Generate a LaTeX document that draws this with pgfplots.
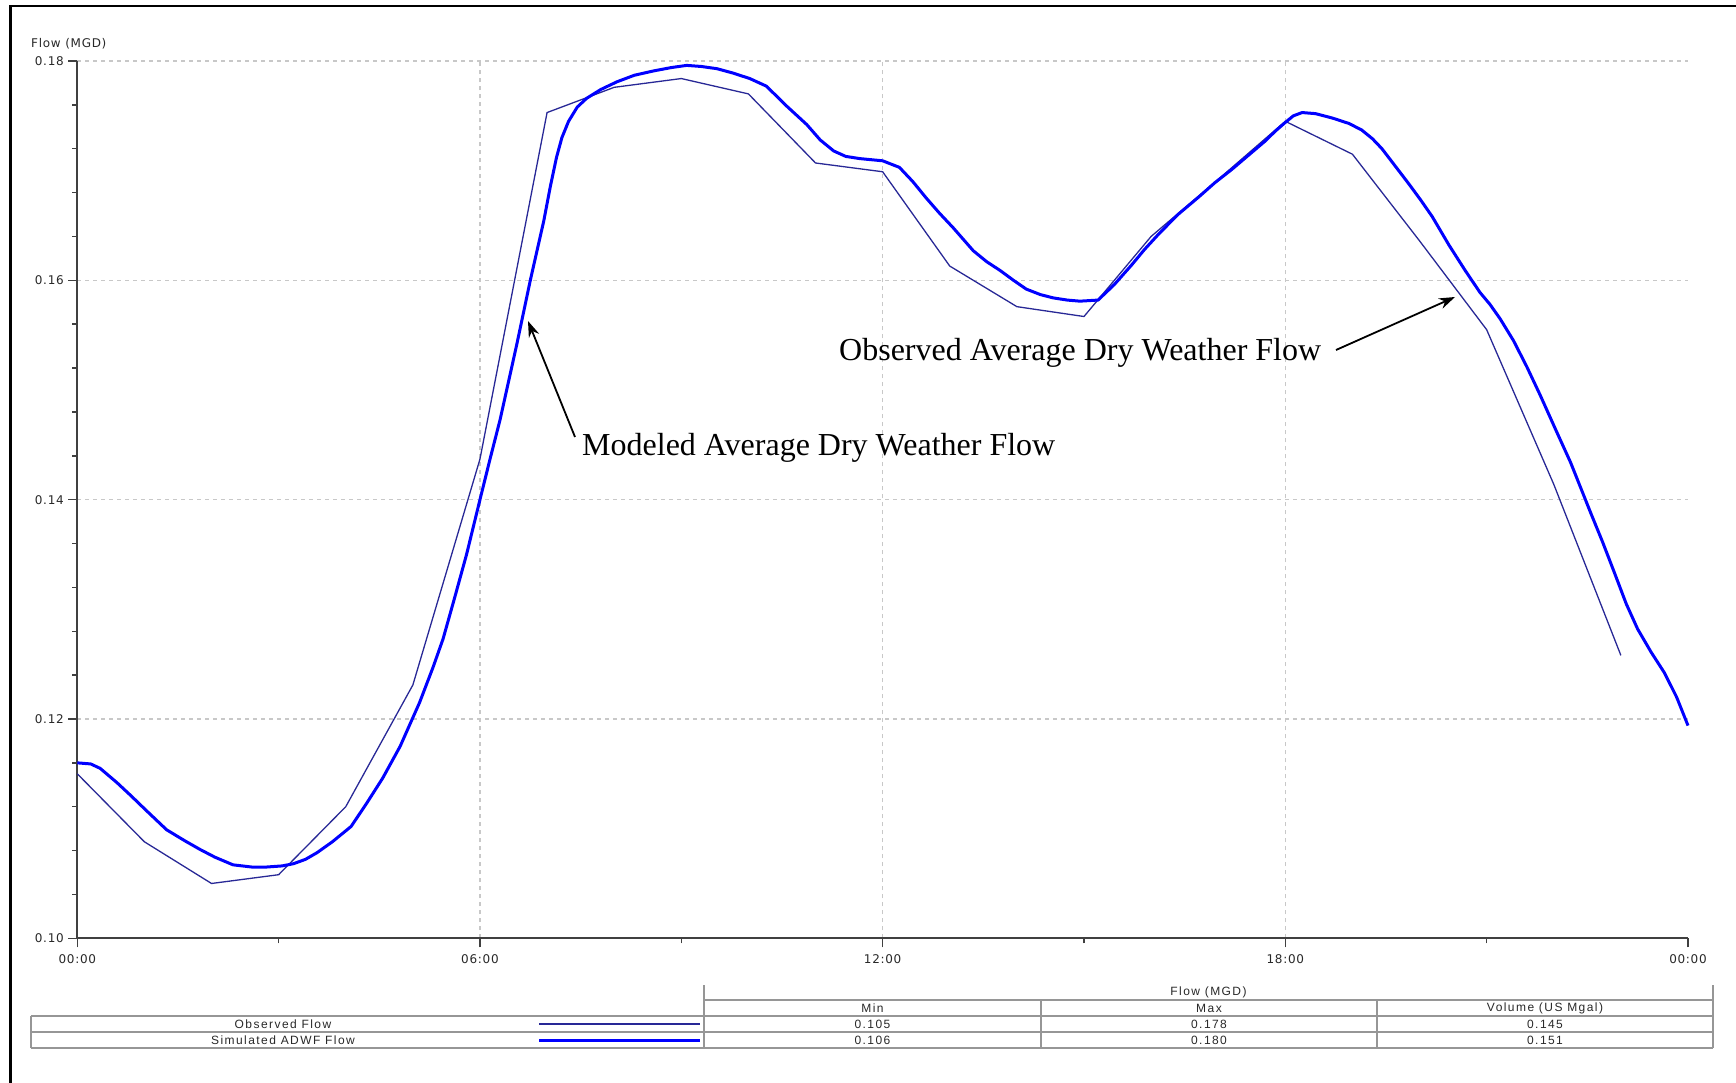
\documentclass[border=0pt]{standalone}
\usepackage{pgfplots}
\pgfplotsset{compat=1.18}
\usepackage{fontspec}
\setmainfont{Liberation Serif}
\newfontfamily\tickfont[LetterSpace=6]{DejaVu Sans}
\newfontfamily\tabfont[LetterSpace=12]{Liberation Sans}
\usetikzlibrary{arrows.meta}
\definecolor{obs}{RGB}{40,40,150}
\definecolor{sim}{RGB}{0,0,255}
\definecolor{gridc}{RGB}{200,200,200}
\definecolor{axc}{RGB}{64,64,64}
\definecolor{tabc}{RGB}{150,150,150}
\definecolor{txtc}{RGB}{40,40,40}
\begin{document}
\begin{tikzpicture}[x=1pt,y=1pt]
\path[use as bounding box] (0,0) rectangle (1736,-1083);
\draw[black,line width=2.5pt] (10.5,-1083) -- (10.5,-6) -- (1736,-6);
\begin{axis}[
  at={(77.3pt,-938.3pt)}, anchor=south west, scale only axis,
  width=1610.7pt, height=877.3pt,
  xmin=0, xmax=24, ymin=0.10, ymax=0.18,
  axis lines=left, axis line style={-, axc, line width=1.8pt},
  xtick={0,6,12,18}, xticklabels={00:00,06:00,12:00,18:00},
  extra x ticks={24}, extra x tick labels={00:00},
  extra x tick style={grid=none},
  minor xtick={3,9,15,21},
  ytick={0.10,0.12,0.14,0.16,0.18},
  yticklabels={0.10,0.12,0.14,0.16,0.18},
  minor y tick num=4,
  tick align=outside, major tick length=9pt, minor tick length=5pt,
  every tick/.style={axc, line width=1.5pt},
  grid=major, major grid style={gridc, dash pattern=on 4pt off 4pt, line width=1.2pt},
  ticklabel style={font=\tickfont\fontsize{12}{14}\selectfont, text=txtc},
  xticklabel style={yshift=-4pt},
  yticklabel style={xshift=-1pt},
  clip=false,
]
\addplot[obs, line width=1.3pt] coordinates {
(0,0.1150) (1,0.1088) (2,0.1050) (3,0.1058) (4,0.1120) (5,0.1231)
(6,0.1437) (7,0.1753) (8,0.1776) (9,0.1784) (10,0.1770) (11,0.1707)
(12,0.1699) (13,0.1613) (14,0.1576) (15,0.1567) (16,0.1640) (17,0.1692)
(18,0.1745) (19,0.1715) (20,0.1636) (21,0.1555) (22,0.1414) (23,0.1258)
};
\addplot[sim, line width=3pt, line join=round] coordinates {
(0,0.1160) (0.20,0.1159) (0.34,0.1155) (0.59,0.1142) (0.80,0.1130) (1.02,0.1117) (1.33,0.1099)
(1.60,0.1089) (1.83,0.1081) (2.05,0.1074) (2.32,0.1067) (2.60,0.1065) (2.82,0.1065) (3.05,0.1066) (3.22,0.1068) (3.40,0.1072) (3.57,0.1078)
(3.80,0.1088) (4.08,0.1102) (4.31,0.1123) (4.55,0.1146) (4.81,0.1175) (5.10,0.1215) (5.30,0.1247) (5.45,0.1273)
(5.62,0.1310) (5.80,0.1350) (6.00,0.1400) (6.15,0.1437) (6.30,0.1473) (6.55,0.1542) (6.75,0.1600)
(6.95,0.1654) (7.05,0.1686) (7.14,0.1712) (7.22,0.1730) (7.32,0.1745) (7.45,0.1758) (7.59,0.1766) (7.80,0.1774) (8.04,0.1781)
(8.30,0.1787) (8.59,0.1791) (8.85,0.1794) (9.08,0.1796) (9.30,0.1795) (9.53,0.1793) (9.77,0.1789) (10.02,0.1784) (10.27,0.1777)
(10.55,0.1760) (10.87,0.1742) (11.07,0.1728) (11.27,0.1718) (11.45,0.1713) (11.66,0.1711) (12.00,0.1709) (12.25,0.1703)
(12.45,0.1690) (12.65,0.1675) (12.85,0.1661) (13.05,0.1648) (13.35,0.1627) (13.55,0.1617) (13.75,0.1609) (13.95,0.1600) (14.14,0.1592)
(14.35,0.1587) (14.54,0.1584) (14.75,0.1582) (14.94,0.1581) (15.21,0.1582) (15.45,0.1596) (15.71,0.1614) (15.90,0.1628) (16.11,0.1642)
(16.40,0.1660) (16.71,0.1676) (16.95,0.1689) (17.20,0.1701) (17.45,0.1714) (17.70,0.1727) (17.85,0.1736) (18.00,0.1744) (18.12,0.1750) (18.25,0.1753)
(18.45,0.1752) (18.70,0.1748) (18.95,0.1743) (19.14,0.1737) (19.30,0.1729) (19.44,0.1720) (19.64,0.1704) (19.84,0.1688) (20.02,0.1673) (20.19,0.1658)
(20.44,0.1632) (20.68,0.1609) (20.90,0.1589) (21.05,0.1578) (21.20,0.1565) (21.40,0.1545) (21.60,0.1521) (21.80,0.1495) (22.02,0.1465)
(22.25,0.1434) (22.55,0.1388) (22.73,0.1361) (22.90,0.1334) (23.08,0.1305) (23.25,0.1282) (23.45,0.1261) (23.65,0.1242) (23.83,0.1220)
(24.00,0.1194)
};
\end{axis}
% y label
\node[anchor=west, inner sep=0, text=txtc, font=\tickfont\fontsize{12}{14}\selectfont] at (31,-44) {Flow (MGD)};
% annotations
\node[anchor=base west, inner sep=0, font=\fontsize{32}{38}\selectfont] at (582,-455) {Modeled Average Dry Weather Flow};
\node[anchor=base west, inner sep=0, font=\fontsize{32}{38}\selectfont] at (839,-360) {Observed Average Dry Weather Flow};
\draw[black, line width=1.8pt, -{Stealth[length=16pt,width=11pt]}] (575,-437) -- (528,-321);
\draw[black, line width=1.8pt, -{Stealth[length=16pt,width=11pt]}] (1336,-350) -- (1455,-297);
% table
\begin{scope}[tabc, line width=1.5pt]
\draw (704,-1000) -- (1713,-1000);
\draw (31,-1016) -- (1713,-1016);
\draw (31,-1032) -- (1713,-1032);
\draw (31,-1048) -- (1713,-1048);
\draw (704,-985) -- (704,-1048);
\draw (1713,-985) -- (1713,-1048);
\draw (31,-1016) -- (31,-1048);
\draw (1041,-1000) -- (1041,-1048);
\draw (1377,-1000) -- (1377,-1048);
\end{scope}
\begin{scope}[every node/.style={inner sep=0, text=txtc, font=\tabfont\fontsize{12}{13}\selectfont}]
\node at (1208.5,-992) {Flow (MGD)};
\node at (872.5,-1008) {Min};
\node at (1209,-1008) {Max};
\node at (1545,-1008) {Volume (US Mgal)};
\node at (283,-1024) {Observed Flow};
\node at (283,-1040) {Simulated ADWF Flow};
\node at (872.5,-1024) {0.105};
\node at (1209,-1024) {0.178};
\node at (1545,-1024) {0.145};
\node at (872.5,-1040) {0.106};
\node at (1209,-1040) {0.180};
\node at (1545,-1040) {0.151};
\end{scope}
\draw[obs, line width=1.5pt] (539,-1024) -- (700,-1024);
\draw[sim, line width=3pt] (539,-1040) -- (700,-1040);
\end{tikzpicture}
\end{document}
